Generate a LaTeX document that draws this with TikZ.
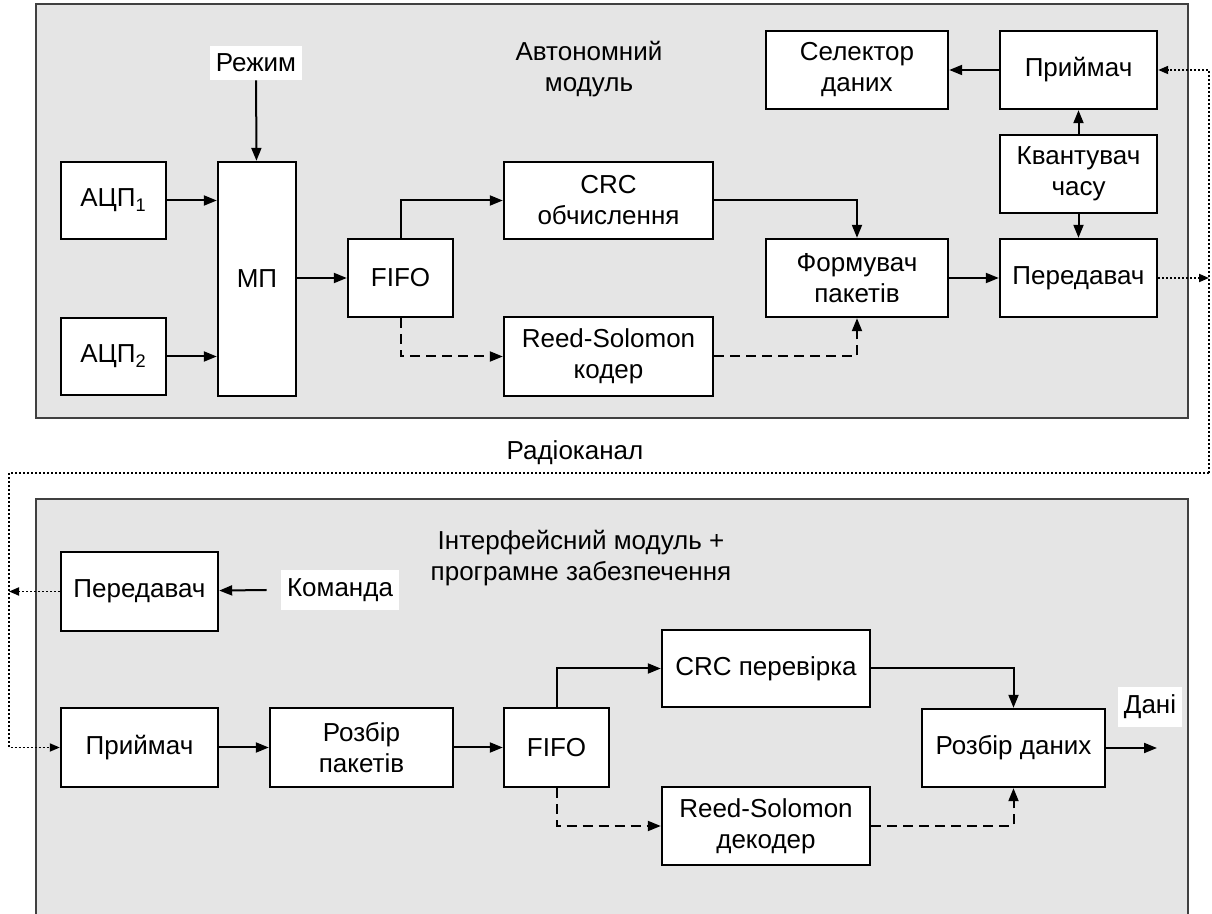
\documentclass[tikz,border=0pt]{standalone}
\usepackage{fontspec}
\setmainfont{Liberation Sans}
\usetikzlibrary{arrows.meta}

\begin{document}
\begin{tikzpicture}[
	x=0.5pt, y=-0.5pt,
	font=\fontsize{13}{15.5}\selectfont,
	panel/.style={fill=gray!20},
	rim/.style={draw=black!75, line width=1.2pt},
	box/.style={draw, fill=white, line width=1.2pt, align=center, inner sep=0pt},
	tag/.style={fill=white, inner xsep=3pt, inner ysep=4pt},
	arrow/.style={-{Triangle[length=6.5pt,width=5pt]}, line width=1pt},
	dasharrow/.style={arrow, dash pattern=on 5pt off 3pt},
	radio/.style={-{Triangle[length=5pt,width=4pt]}, line width=0.9pt, dash pattern=on 1pt off 1pt}
	]
	\useasboundingbox (0,0) rectangle (1212,914);
	
	% Panels
	\fill[panel] (36,4) rectangle (1188,418);
	\draw[rim] (36,4) rectangle (1188,418);
	\fill[panel] (36,499) rectangle (1188,914);
	\draw[rim] (36,914) |- (1188,499) -- (1188,914);
	
	\node[align=center] (auto) at (589,69) {Автономний\\модуль};
	\node[align=center] (iface) at (581,558) {Інтерфейсний модуль +\\програмне забезпечення};
	\node (chan) at (575,453) {Радіоканал};
	
	% Autonomous module
	\foreach \i/\y in {1/200.5,2/356.5}
		\node[box, minimum width=52.5pt, minimum height=38.5pt] (adc\i) at (113.5,\y) {АЦП\textsubscript{\i}};
	\node[tag] (mode) at (256,63) {Режим};
	\node[box, minimum width=39pt, minimum height=117pt] (mp) at (257,279) {МП};
	\node[box, minimum width=52.5pt, minimum height=39pt] (fifo) at (400.5,278) {FIFO};
	\node[box, minimum width=104.5pt, minimum height=38.5pt] (crc) at (608.5,200.5) {CRC\\обчислення};
	\node[box, minimum width=104.5pt, minimum height=39.5pt] (rs) at (608.5,356.5) {Reed-Solomon\\кодер};
	\node[box, minimum width=91pt, minimum height=39pt] (former) at (857,278) {Формувач\\пакетів};
	\node[box, minimum width=91pt, minimum height=39pt] (sel) at (857,70) {Селектор\\даних};
	\node[box, minimum width=78.5pt, minimum height=39pt] (rx) at (1078.5,70) {Приймач};
	\node[box, minimum width=78.5pt, minimum height=39pt] (quant) at (1078.5,174) {Квантувач\\часу};
	\node[box, minimum width=78.5pt, minimum height=39pt] (tx) at (1078.5,278) {Передавач};
	
	\draw[arrow] (mode) -- (mp);
	\foreach \i in {1,2}
		\draw[arrow] (adc\i) -- (adc\i -| mp.west);
	\draw[arrow] (mp.east |- fifo) -- (fifo);
	\draw[arrow] (fifo.north) |- (crc);
	\draw[dasharrow] (fifo.south) |- (rs);
	\draw[arrow] (crc) -| (former.north);
	\draw[dasharrow] (rs) -| (former.south);
	\draw[arrow] (former) -- (tx);
	\draw[arrow] (rx) -- (sel);
	\draw[arrow] (quant) -- (rx);
	\draw[arrow] (quant) -- (tx);
	
	% Interface module
	\node[box, minimum width=78.5pt, minimum height=39.5pt] (tx2) at (139.5,591.5) {Передавач};
	\node[tag] (cmd) at (340,590) {Команда};
	\node[box, minimum width=78.5pt, minimum height=39.5pt] (rx2) at (139.5,747.5) {Приймач};
	\node[box, minimum width=91.5pt, minimum height=39.5pt] (parse) at (361.5,747.5) {Розбір\\пакетів};
	\node[box, minimum width=52.5pt, minimum height=39.5pt] (fifo2) at (556.5,747.5) {FIFO};
	\node[box, minimum width=104pt, minimum height=38.5pt] (crcchk) at (766,668.5) {CRC перевірка};
	\node[box, minimum width=104pt, minimum height=39pt] (rsdec) at (766,826) {Reed-Solomon\\декодер};
	\node[box, minimum width=91.5pt, minimum height=39pt] (dparse) at (1013.5,748) {Розбір даних};
	\node[tag] (data) at (1150,707) {Дані};
	\coordinate (dout) at (1157,748);
	
	\draw[arrow] ([xshift=-7pt]cmd.west) -- (tx2);
	\draw[arrow] (rx2) -- (parse);
	\draw[arrow] (parse) -- (fifo2);
	\draw[arrow] (fifo2.north) |- (crcchk);
	\draw[dasharrow] (fifo2.south) |- (rsdec);
	\draw[arrow] (crcchk) -| (dparse.north);
	\draw[dasharrow] (rsdec) -| (dparse.south);
	\draw[arrow] (dparse.east) -- (dout);
	
	% Radio channel
	\coordinate (ch1) at (1209,473);
	\coordinate (ch2) at (9,473);
	\draw[radio] (ch1) |- (rx.east);
	\draw[radio] (tx.east) -- (tx.east -| ch1);
	\draw[radio] (ch1) -- (ch2) |- (rx2.west);
	\draw[radio] (tx2.west) -- (tx2.west -| ch2);
	
\end{tikzpicture}
\end{document}
